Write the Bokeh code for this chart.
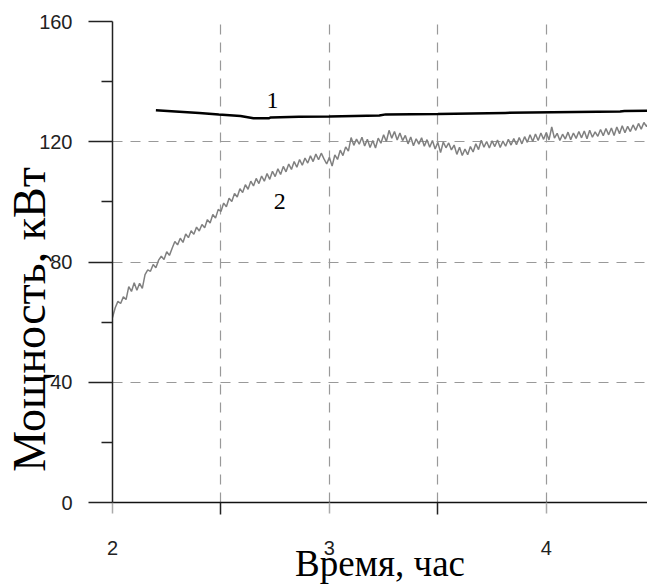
from bokeh.plotting import figure
from bokeh.models import FixedTicker, Label, Range1d
from bokeh.embed import file_html
from bokeh.resources import INLINE

# Curve 1 (time, power)
t1 = [2.20, 2.29, 2.40, 2.49, 2.59, 2.65, 2.72, 2.73, 2.86, 3.00, 3.23, 3.26, 3.50, 3.81, 4.34, 4.36, 4.47]
p1 = [130.5, 130.1, 129.6, 129.1, 128.6, 127.8, 127.8, 128.1, 128.3, 128.4, 128.7, 129.1, 129.2, 129.6, 130.1, 130.2, 130.3]

# Curve 2 (noisy measured power), sampled every 0.0125 h starting at 2.0 h
p2 = [61.5, 64.8, 66.9, 66.2, 68.4, 67.5, 71.8, 70.2, 73.1, 70.6,
      72.9, 71.2, 75.8, 77.4, 76.9, 79.2, 78.1, 80.6, 81.9, 80.8,
      83.4, 82.2, 84.6, 86.8, 85.7, 87.9, 86.5, 89.3, 88.1, 90.4,
      89.2, 91.6, 90.3, 92.5, 91.4, 94.1, 93.0, 95.8, 94.6, 97.5,
      96.8, 99.6, 98.4, 101.2, 100.1, 102.8, 101.6, 104.4, 103.1, 105.7,
      104.2, 106.9, 105.3, 107.8, 106.1, 108.6, 106.9, 109.4, 107.5, 110.2,
      108.4, 111.0, 109.1, 111.8, 110.0, 112.6, 110.8, 113.4, 111.5, 114.1,
      112.2, 114.6, 112.9, 115.3, 113.4, 115.9, 114.0, 116.2, 114.3, 112.6,
      114.8, 111.9, 115.6, 114.1, 117.2, 115.4, 118.3, 116.9, 121.4, 118.8,
      120.9, 119.2, 121.5, 118.6, 120.8, 118.1, 120.4, 117.9, 121.2, 119.5,
      122.3, 120.1, 123.8, 121.2, 123.4, 120.6, 122.9, 120.4, 122.1, 119.3,
      121.6, 118.7, 121.0, 119.2, 121.3, 118.5, 120.7, 118.2, 120.4, 117.6,
      119.8, 116.4, 119.9, 118.0, 119.6, 117.3, 118.9, 115.8, 118.2, 115.4,
      117.6, 115.7, 118.4, 116.6, 119.3, 117.4, 120.5, 118.2, 120.1, 117.9,
      120.3, 118.4, 120.6, 118.1, 120.2, 118.5, 120.8, 118.9, 121.1, 119.0,
      121.4, 119.3, 121.7, 119.8, 122.3, 120.1, 122.6, 120.4, 122.9, 120.8,
      123.1, 120.6, 124.9, 121.2, 122.8, 120.4, 122.5, 120.9, 123.2, 120.7,
      122.9, 121.1, 123.4, 121.3, 123.6, 121.0, 123.8, 121.5, 123.3, 121.8,
      124.1, 122.0, 124.4, 122.3, 124.6, 122.1, 124.9, 122.7, 125.3, 123.0,
      125.1, 123.4, 125.6, 123.8, 126.1, 124.2, 126.4, 125.0, 127.2]
t2 = [2.0 + 0.0125 * i for i in range(len(p2))]

y_ticks = [0, 40, 80, 120, 160]
y_minor = [20, 60, 100, 140]
x_ticks = [2, 3, 4]
x_minor = [2.5, 3.5]

p = figure(width=647, height=586, x_range=Range1d(2, 4.4665), y_range=Range1d(0, 160),
           output_backend="svg", toolbar_location=None,
           min_border_left=112, min_border_right=0, min_border_top=21, min_border_bottom=83)
p.outline_line_color = None
p.background_fill_color = "white"
p.border_fill_color = "white"

# axes
p.yaxis.ticker = FixedTicker(ticks=y_ticks, minor_ticks=y_minor)
p.xaxis.ticker = FixedTicker(ticks=x_ticks, minor_ticks=x_minor)
for ax in (p.xaxis, p.yaxis):
    ax.major_label_text_font = "Liberation Sans"
    ax.major_label_text_font_size = "20px"
    ax.major_label_text_color = "#222222"
    ax.axis_line_color = "#222222"
    ax.axis_line_width = 1.5
    ax.major_tick_in = 0
    ax.minor_tick_in = 0
    ax.axis_label_text_font = "Liberation Serif"
    ax.axis_label_text_font_style = "normal"
    ax.axis_label_text_color = "black"

p.yaxis.major_tick_out = 24
p.yaxis.minor_tick_out = 11
p.yaxis.major_tick_line_color = "#222222"
p.yaxis.minor_tick_line_color = "#222222"
p.yaxis.major_tick_line_width = 1.5
p.yaxis.minor_tick_line_width = 1.5
p.yaxis.major_label_standoff = 16
# trailing non-breaking spaces shift the centred title down, as in the original
p.yaxis.axis_label = "Мощность, кВт" + "\u00a0" * 10
p.yaxis.axis_label_text_font_size = "46px"
p.yaxis.axis_label_standoff = -19

p.xaxis.major_tick_out = 11
p.xaxis.minor_tick_out = 12
p.xaxis.major_tick_line_color = "#aaaaaa"
p.xaxis.minor_tick_line_color = "#222222"
p.xaxis.major_tick_line_width = 1.5
p.xaxis.minor_tick_line_width = 1.5
p.xaxis.axis_line_color = "#111111"
p.xaxis.major_label_standoff = 26
p.xaxis.axis_label = "Время, час"
p.xaxis.axis_label_text_font_size = "37px"
p.xaxis.axis_label_standoff = -15

# grid
p.ygrid.grid_line_color = "#999999"
p.ygrid.grid_line_dash = "10 8"
p.ygrid.grid_line_width = 1.2
p.ygrid.minor_grid_line_color = None
p.xgrid.grid_line_color = "#999999"
p.xgrid.grid_line_dash = "10 8"
p.xgrid.grid_line_width = 1.2
p.xgrid.minor_grid_line_color = "#999999"
p.xgrid.minor_grid_line_dash = "10 8"
p.xgrid.minor_grid_line_width = 1.2

# curves
p.line(t2, p2, line_color="#808080", line_width=1.5)
p.line(t1, p1, line_color="black", line_width=2.5)

# curve labels
p.add_layout(Label(x=2.738, y=133.7, text="1", text_font="Liberation Serif",
                   text_font_size="24px", text_align="center", text_baseline="middle",
                   text_color="black"))
p.add_layout(Label(x=2.771, y=100.1, text="2", text_font="Liberation Serif",
                   text_font_size="24px", text_align="center", text_baseline="middle",
                   text_color="black"))

open("out.html", "w").write(file_html(p, INLINE))
